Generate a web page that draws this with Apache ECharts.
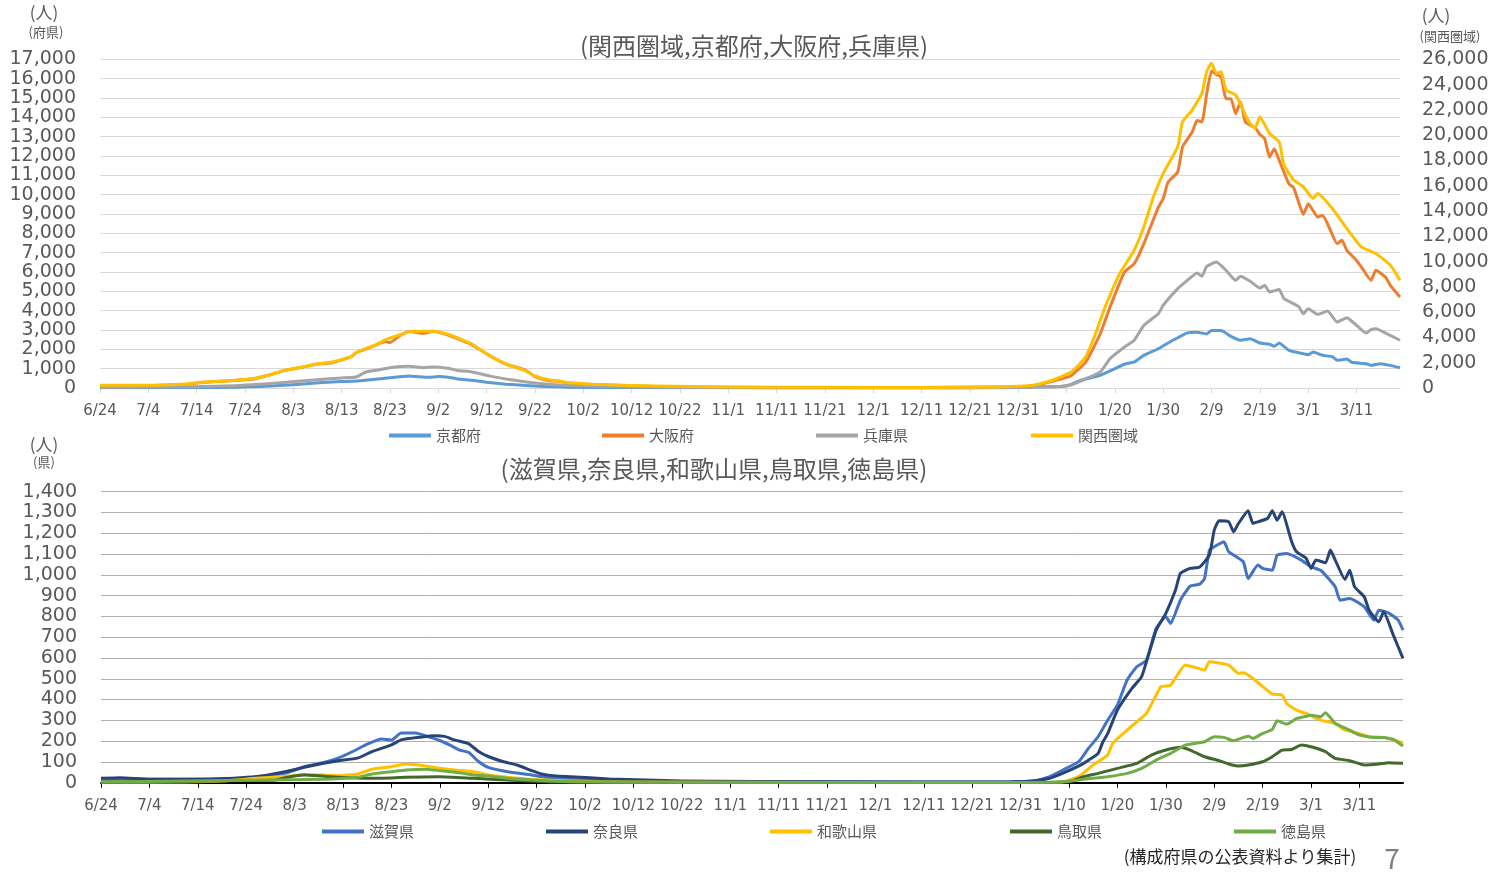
<!DOCTYPE html>
<html>
<head>
<meta charset="utf-8">
<title>関西圏域 陽性者数</title>
<script src="https://cdn.jsdelivr.net/npm/echarts@6/dist/echarts.min.js"></script>
<style>
  html, body { margin: 0; padding: 0; background: #fff; }
  #chart { width: 1507px; height: 872px; }
</style>
</head>
<body>
<div id="chart"></div>
<script>
// x = days since 6/24, ticks every 10 days
const tickLabels = ['6/24', '7/4', '7/14', '7/24', '8/3', '8/13', '8/23', '9/2', '9/12', '9/22',
  '10/2', '10/12', '10/22', '11/1', '11/11', '11/21', '12/1', '12/11', '12/21', '12/31',
  '1/10', '1/20', '1/30', '2/9', '2/19', '3/1', '3/11']
const lastDay = 269

// top panel: [day, people]
const kyoto = [[0,10],[10,15],[20,25],[28,40],[33,80],[38,140],[42,210],[46,280],[50,330],[53,360],[56,430],[59,500],[62,580],[64,620],[66,580],[68,550],[70,590],[72,560],[74,470],[77,400],[80,300],[84,200],[88,130],[92,80],[97,40],[105,25],[115,15],[130,8],[150,5],[170,5],[185,8],[190,20],[195,60],[200,100],[203,400],[207,660],[210,1000],[212,1230],[214,1350],[216,1690],[219,2030],[221,2330],[223,2600],[225,2850],[227,2880],[229,2800],[230,2980],[232,2980],[234,2670],[236,2470],[238,2550],[240,2330],[242,2260],[243,2160],[244,2330],[246,1950],[248,1830],[250,1720],[251,1860],[253,1690],[255,1620],[256,1430],[258,1500],[259,1330],[262,1260],[263,1170],[265,1260],[267,1170],[269,1050]]
const osaka = [[0,100],[10,120],[18,190],[21,280],[27,380],[32,480],[35,670],[38,900],[41,1030],[45,1240],[48,1310],[52,1620],[53,1830],[57,2210],[59,2400],[60,2350],[62,2700],[64,2920],[67,2830],[69,2930],[72,2740],[75,2450],[77,2230],[81,1620],[84,1240],[88,930],[90,590],[93,380],[95,350],[97,240],[105,150],[115,80],[130,40],[150,20],[170,20],[185,50],[193,90],[195,220],[199,480],[201,650],[204,1350],[207,2810],[209,4190],[212,6000],[214,6430],[216,7470],[219,9360],[220,9790],[221,10650],[223,11170],[224,12470],[226,13240],[227,13840],[228,13760],[229,15220],[230,16400],[231,16220],[232,16090],[233,14970],[234,14970],[235,14190],[236,14790],[237,13760],[239,13470],[240,13120],[241,12900],[242,11950],[243,12380],[244,11780],[246,10570],[247,10360],[248,9620],[249,8980],[250,9530],[251,9190],[252,8840],[253,8930],[254,8500],[256,7470],[257,7640],[258,7120],[260,6600],[261,6260],[263,5570],[264,6090],[266,5740],[267,5310],[269,4710]]
const hyogo = [[0,35],[10,50],[19,70],[28,120],[33,190],[38,290],[45,430],[50,520],[53,570],[55,830],[58,950],[61,1090],[64,1120],[67,1050],[69,1090],[72,1020],[74,910],[77,830],[81,600],[85,430],[90,260],[95,160],[100,100],[110,50],[125,25],[150,15],[175,15],[188,25],[194,50],[197,50],[201,170],[204,480],[207,830],[209,1520],[212,2120],[214,2470],[216,3240],[219,3840],[220,4280],[223,5140],[225,5570],[227,5950],[228,5780],[229,6290],[231,6520],[233,6090],[235,5570],[236,5780],[238,5520],[240,5170],[241,5310],[242,4970],[244,5090],[245,4620],[248,4220],[249,3840],[250,4100],[252,3810],[254,3980],[256,3410],[258,3640],[260,3240],[262,2840],[263,3020],[264,3070],[267,2720],[269,2470]]
// 関西圏域 uses the right axis
const kansai = [[0,210],[10,210],[18,320],[21,450],[27,580],[32,770],[35,1030],[38,1370],[41,1610],[45,1900],[48,2060],[52,2480],[53,2800],[57,3410],[59,3800],[62,4200],[64,4460],[67,4490],[69,4490],[72,4250],[75,3800],[77,3460],[81,2480],[84,1900],[88,1370],[90,950],[93,630],[95,550],[97,420],[105,250],[115,150],[130,80],[150,50],[170,40],[186,80],[193,210],[197,610],[199,920],[201,1270],[204,2460],[206,4300],[208,6420],[211,9050],[214,10900],[216,12750],[218,15130],[220,16980],[223,19090],[224,21070],[226,21990],[228,23310],[229,25030],[230,25690],[231,24900],[232,25030],[233,23580],[235,23180],[237,21600],[238,20940],[239,20540],[240,21460],[242,20140],[244,19480],[245,17640],[247,16450],[249,15920],[251,15000],[252,15390],[255,14200],[258,12620],[261,11170],[264,10640],[267,9710],[269,8530]]

// bottom panel: [day, people]
const shiga = [[0,16],[18,16],[29,21],[32,26],[38,45],[42,77],[46,97],[49,118],[52,150],[55,185],[58,210],[60,205],[62,239],[65,239],[68,218],[70,203],[72,182],[74,158],[76,145],[78,102],[80,74],[84,53],[89,37],[93,21],[97,16],[105,10],[120,5],[150,3],[186,3],[193,10],[196,29],[199,64],[202,101],[204,165],[206,221],[208,301],[210,374],[212,494],[214,558],[216,590],[218,742],[220,798],[221,766],[223,878],[225,945],[227,955],[228,982],[229,1119],[230,1135],[232,1159],[233,1111],[236,1063],[237,982],[239,1047],[240,1031],[242,1022],[243,1095],[245,1103],[248,1071],[250,1038],[252,1022],[255,942],[256,878],[258,886],[261,846],[263,782],[264,830],[266,817],[268,782],[269,734]]
const nara = [[0,21],[4,24],[10,16],[20,16],[29,24],[33,32],[38,53],[42,74],[46,94],[49,106],[53,118],[56,150],[60,182],[62,206],[66,219],[69,226],[71,223],[73,206],[76,187],[78,150],[80,126],[83,102],[86,85],[89,58],[91,42],[94,32],[97,29],[105,18],[120,8],[150,4],[186,3],[193,10],[196,21],[199,48],[203,93],[206,141],[207,197],[208,237],[210,350],[213,454],[215,510],[218,734],[220,815],[222,927],[223,1007],[225,1031],[227,1038],[229,1095],[230,1215],[231,1260],[233,1255],[234,1207],[235,1247],[237,1308],[238,1247],[239,1255],[241,1271],[242,1308],[243,1263],[244,1303],[246,1159],[247,1111],[249,1079],[250,1031],[251,1071],[253,1058],[254,1119],[255,1071],[257,978],[258,1022],[259,942],[261,894],[262,830],[264,774],[265,822],[267,710],[269,598]]
const wakayama = [[0,2],[15,3],[25,8],[32,21],[39,32],[42,40],[49,34],[53,42],[56,65],[60,77],[63,90],[67,81],[70,69],[73,61],[77,53],[80,37],[84,26],[89,16],[97,8],[110,3],[150,1],[195,1],[199,5],[202,29],[205,85],[208,133],[209,189],[212,253],[214,293],[216,334],[218,422],[219,462],[221,470],[224,566],[226,555],[228,542],[229,582],[233,566],[235,526],[236,529],[238,502],[240,462],[242,426],[244,422],[245,381],[247,349],[249,333],[252,301],[255,285],[257,253],[260,237],[262,221],[265,218],[269,192]]
const tottori = [[0,2],[30,10],[36,13],[39,29],[42,37],[49,26],[56,21],[63,26],[70,29],[77,21],[84,13],[94,3],[110,1],[190,1],[200,5],[203,29],[206,45],[210,69],[214,93],[217,133],[220,157],[223,170],[225,157],[228,125],[231,106],[233,90],[235,80],[237,85],[240,101],[242,125],[244,157],[246,160],[248,181],[250,173],[253,149],[255,117],[258,106],[261,85],[264,90],[266,96],[269,93]]
const tokushima = [[0,3],[26,10],[46,16],[53,26],[56,42],[60,53],[63,61],[67,65],[70,58],[74,48],[77,37],[80,32],[84,21],[89,13],[97,5],[110,2],[190,1],[198,3],[203,16],[208,29],[212,45],[215,69],[218,109],[221,141],[224,181],[226,189],[228,197],[230,221],[232,218],[234,202],[237,224],[238,213],[240,237],[242,256],[243,298],[245,282],[247,309],[248,314],[250,325],[252,317],[253,337],[255,285],[258,253],[260,229],[263,218],[265,218],[267,208],[269,176]]

const FONT = '"DejaVu Sans", "Noto Sans CJK JP", sans-serif'
const JP = '"Noto Sans CJK JP", sans-serif'
const GREY = '#595959'

const tickPos = tickLabels.map((_, i) => i * 10)

function xAxis(grid, lineColor, lineWidth) {
  return {
    type: 'value', gridIndex: grid, min: 0, max: lastDay, interval: 10,
    axisLine: { show: true, lineStyle: { color: lineColor, width: lineWidth } },
    axisTick: { show: true, length: 5, customValues: tickPos, lineStyle: { color: lineColor } },
    splitLine: { show: false },
    axisLabel: {
      customValues: tickPos, margin: 16, color: GREY, fontSize: 15, fontFamily: FONT,
      formatter: v => (v % 10 === 0 && tickLabels[v / 10]) ? tickLabels[v / 10] : ''
    }
  }
}

function yAxis(grid, max, step, pos, gridColor) {
  return {
    type: 'value', gridIndex: grid, min: 0, max: max, interval: step, position: pos,
    axisLine: { show: false }, axisTick: { show: false },
    splitLine: { show: !!gridColor, lineStyle: { color: gridColor || '#d9d9d9', width: 1 } },
    axisLabel: { margin: pos === 'left' ? 24 : 22, color: GREY, fontSize: 19, fontFamily: FONT }
  }
}

function line(name, data, color, xi, yi) {
  return {
    name, type: 'line', data, xAxisIndex: xi, yAxisIndex: yi,
    showSymbol: false, symbol: 'none', smooth: 0.15, color,
    lineStyle: { width: 3, color, join: 'round' }, itemStyle: { color },
    emphasis: { disabled: true }, animation: false
  }
}

const topSeries = [
  ['京都府', kyoto, '#5B9BD5', 0],
  ['大阪府', osaka, '#ED7D31', 0],
  ['兵庫県', hyogo, '#A5A5A5', 0],
  ['関西圏域', kansai, '#FFC000', 1]
]
const bottomSeries = [
  ['滋賀県', shiga, '#4472C4'],
  ['奈良県', nara, '#264478'],
  ['和歌山県', wakayama, '#FFC000'],
  ['鳥取県', tottori, '#43682B'],
  ['徳島県', tokushima, '#70AD47']
]

const legendTop = [389, 602, 816, 1031]
const legendBottom = [322, 546, 770, 1010, 1234]
const legends = []
topSeries.forEach((s, i) => legends.push({ name: s[0], left: legendTop[i], top: 428 }))
bottomSeries.forEach((s, i) => legends.push({ name: s[0], left: legendBottom[i], top: 824 }))

function text(x, y, str, size, align, color) {
  return {
    type: 'text', x, y,
    style: { text: str, fontSize: size, fontFamily: JP, fill: color || GREY, align: align || 'center', verticalAlign: 'middle' }
  }
}

const option = {
  backgroundColor: '#fff',
  animation: false,
  grid: [
    { left: 100, right: 107, top: 59.4, height: 328.6, outerBoundsMode: 'none' },
    { left: 101, right: 104, top: 491.7, height: 291, outerBoundsMode: 'none' }
  ],
  xAxis: [xAxis(0, '#d9d9d9', 1), xAxis(1, '#000000', 2)],
  yAxis: [
    yAxis(0, 17000, 1000, 'left', '#d9d9d9'),
    yAxis(0, 26000, 2000, 'right', null),
    yAxis(1, 1400, 100, 'left', '#b0b0b0')
  ],
  legend: legends.map(l => ({
    data: [l.name], left: l.left, top: l.top, icon: 'rect', itemWidth: 42, itemHeight: 4,
    selectedMode: false, padding: 0,
    textStyle: { color: GREY, fontSize: 15, fontFamily: JP }
  })),
  series: [
    ...topSeries.map(s => line(s[0], s[1], s[2], 0, s[3])),
    ...bottomSeries.map(s => line(s[0], s[1], s[2], 1, 2))
  ],
  graphic: [
    text(754, 46, '(関西圏域,京都府,大阪府,兵庫県)', 24),
    text(714, 469, '(滋賀県,奈良県,和歌山県,鳥取県,徳島県)', 24),
    text(44, 13, '(人)', 17),
    text(46, 32, '(府県)', 13),
    text(1436, 16, '(人)', 17),
    text(1450, 36, '(関西圏域)', 13),
    text(44, 445, '(人)', 17),
    text(44, 462, '(県)', 13),
    text(1240, 857, '(構成府県の公表資料より集計)', 17, 'center', '#262626'),
    text(1392, 858, '7', 28, 'center', '#7f7f7f')
  ]
}

const chart = echarts.init(document.getElementById('chart'))
chart.setOption(option)
</script>
</body>
</html>
